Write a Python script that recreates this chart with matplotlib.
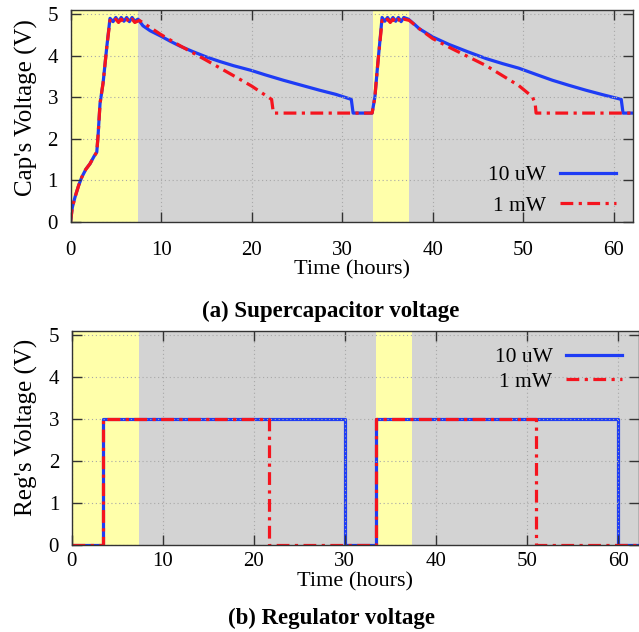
import matplotlib
matplotlib.use("Agg")
import matplotlib.pyplot as plt

# ---------------- data ----------------
# Supercapacitor voltage, 10 uW load
cap_t_10uw = [0, 0.2, 0.5, 0.9, 1.25, 1.7, 2.15, 2.6, 2.9, 3.05, 3.26, 3.6, 4.0, 4.36,
              4.7, 5.0, 5.3, 5.6, 5.9, 6.2, 6.5, 6.8, 7.1, 7.45,
              8.0, 8.8, 9.9, 11.0, 12.1, 13.5, 15.0, 16.5, 18.0, 19.9, 21.5, 23.5, 25.5, 27.5,
              29.3, 31.0, 31.2, 33.3, 33.6, 33.9, 34.4,
              34.7, 35.0, 35.3, 35.6, 35.9, 36.2, 36.5, 36.8, 37.3,
              38.0, 38.5, 40.0, 41.8, 43.8, 45.9, 47.7, 49.5, 51.4, 53.2, 55.0, 56.9, 58.8, 60.8,
              61.0, 62.2]
cap_v_10uw = [0, 0.35, 0.6, 0.88, 1.08, 1.27, 1.4, 1.58, 1.68, 2.1, 2.85, 3.35, 4.2, 4.9,
              4.82, 4.92, 4.82, 4.92, 4.83, 4.92, 4.82, 4.92, 4.83, 4.88,
              4.72, 4.6, 4.48, 4.35, 4.23, 4.1, 3.97, 3.86, 3.76, 3.65, 3.54, 3.41, 3.29, 3.17,
              3.07, 2.95, 2.62, 2.62, 3.0, 3.75, 4.92,
              4.83, 4.92, 4.82, 4.92, 4.83, 4.92, 4.82, 4.92, 4.88,
              4.75, 4.65, 4.45, 4.27, 4.1, 3.93, 3.81, 3.7, 3.55, 3.41, 3.29, 3.17, 3.06, 2.95,
              2.62, 2.62]

# Supercapacitor voltage, 1 mW load
cap_t_1mw = [0, 0.2, 0.5, 0.9, 1.25, 1.7, 2.15, 2.6, 2.9, 3.05, 3.26, 3.6, 4.0, 4.36,
             4.7, 5.0, 5.3, 5.6, 5.9, 6.2, 6.5, 6.8, 7.1, 7.6,
             8.8, 9.9, 12.1, 15.0, 18.0, 20.0, 22.2, 22.4, 33.3, 33.6, 33.9, 34.4,
             34.7, 35.0, 35.3, 35.6, 35.9, 36.2, 36.5, 36.8, 37.4,
             38.5, 40.0, 42.2, 45.9, 49.5, 51.0, 51.3, 51.4, 62.2]
cap_v_1mw = [0, 0.35, 0.6, 0.88, 1.08, 1.27, 1.4, 1.58, 1.68, 2.1, 2.85, 3.35, 4.2, 4.85,
             4.8, 4.88, 4.8, 4.88, 4.8, 4.88, 4.8, 4.88, 4.8, 4.85,
             4.68, 4.52, 4.24, 3.89, 3.52, 3.27, 2.95, 2.62, 2.62, 3.0, 3.75, 4.85,
             4.8, 4.88, 4.8, 4.88, 4.8, 4.88, 4.8, 4.88, 4.85,
             4.65, 4.41, 4.16, 3.76, 3.28, 3.01, 2.85, 2.62, 2.62]

# Regulator voltage
reg_t_10uw = [0, 3.4, 3.4, 30.0, 30.0, 33.4, 33.4, 60.0, 60.0, 62.3]
reg_v_10uw = [0, 0, 3, 3, 0, 0, 3, 3, 0, 0]
reg_t_1mw = [0, 3.4, 3.4, 21.7, 21.7, 33.4, 33.4, 51.0, 51.0, 62.3]
reg_v_1mw = [0, 0, 3, 3, 0, 0, 3, 3, 0, 0]

# daylight (charging) windows
day_start = [0, 33.4]
day_end = [7.4, 37.35]

labels = ["10 uW", "1 mW"]
xticks = [0, 10, 20, 30, 40, 50, 60]
yticks = [0, 1, 2, 3, 4, 5]

# ---------------- style ----------------
W, H = 639, 632
BLUE = "#1e3cf5"
RED = "#f5141e"
GRAY = "#d3d3d3"
YELLOW = "#ffffaa"
SERIF = ["Liberation Serif", "DejaVu Serif"]
plt.rcParams["font.family"] = SERIF
plt.rcParams["font.size"] = 15

fig = plt.figure(figsize=(W / 100, H / 100), dpi=100)


def px_axes(left, right, top, bottom):
    return fig.add_axes([left / W, 1 - bottom / H, (right - left) / W, (bottom - top) / H])


ax1 = px_axes(70.5, 633, 10, 222)
ax2 = px_axes(71.6, 639, 331, 545)

dash_dot = (0, (4.0, 1.7, 1.0, 1.7))


def style(ax, xmax, xpad, xlab_y, ylab_x, ylab_y, ylabel):
    ax.set_facecolor(GRAY)
    for s, e in zip(day_start, day_end):
        ax.axvspan(s, e, color=YELLOW, lw=0, zorder=0.5)
    ax.set_xlim(0, xmax)
    ax.set_ylim(0, 5.1)
    ax.set_xticks(xticks)
    ax.set_yticks(yticks)
    ax.grid(True, color="#a8a8a8", linestyle=(0, (1, 2.5)), lw=0.8, zorder=0.8)
    ax.set_axisbelow(False)
    ax.tick_params(direction="in", length=7, width=1, color="#333333",
                   top=True, right=True, labelsize=15)
    ax.tick_params(axis="x", pad=xpad)
    ax.tick_params(axis="y", pad=9)
    for sp in ax.spines.values():
        sp.set_color("#333333")
        sp.set_linewidth(1.0)
        sp.set_zorder(5)
    ax.set_xlabel("Time (hours)", fontsize=16)
    ax.xaxis.label.set_va("center")
    ax.xaxis.set_label_coords(0.5, xlab_y)
    ax.set_ylabel(ylabel, fontsize=18)
    ax.yaxis.label.set_va("center")
    ax.yaxis.set_label_coords(ylab_x, ylab_y)


style(ax1, 62.1, 14, (222 - 270) / 212, (26 - 70.5) / 562.5, (222 - 108) / 212,
      "Cap's Voltage (V)")
ax1.plot(cap_t_10uw, cap_v_10uw, color=BLUE, lw=2.3, label=labels[0], zorder=2)
ax1.plot(cap_t_1mw, cap_v_1mw, color=RED, lw=2.3, ls=dash_dot, label=labels[1], zorder=3)
ax1.legend(loc="lower right", bbox_to_anchor=(0.985, -0.012), frameon=False,
           markerfirst=False, handlelength=2.6, handletextpad=0.65,
           labelspacing=0.5, borderaxespad=0, fontsize=15.5)

style(ax2, 62.3, 5, (545 - 582) / 214, (26 - 71.6) / 567.4, (545 - 427) / 214,
      "Reg's Voltage (V)")
ax2.plot(reg_t_10uw, reg_v_10uw, color=BLUE, lw=2.3, label=labels[0], zorder=2)
ax2.plot(reg_t_1mw, reg_v_1mw, color=RED, lw=2.3, ls=dash_dot, label=labels[1], zorder=3)
ax2.legend(loc="upper right", bbox_to_anchor=(0.986, 0.965), frameon=False,
           markerfirst=False, handlelength=2.6, handletextpad=0.65,
           labelspacing=0.2, borderaxespad=0, fontsize=15.5)

fig.text(331 / W, 1 - 311 / H, "(a) Supercapacitor voltage",
         ha="center", va="center", fontsize=16.5, fontweight="bold")
fig.text(331 / W, 1 - 618 / H, "(b) Regulator voltage",
         ha="center", va="center", fontsize=16.5, fontweight="bold")

fig.savefig("out.png", dpi=100)
